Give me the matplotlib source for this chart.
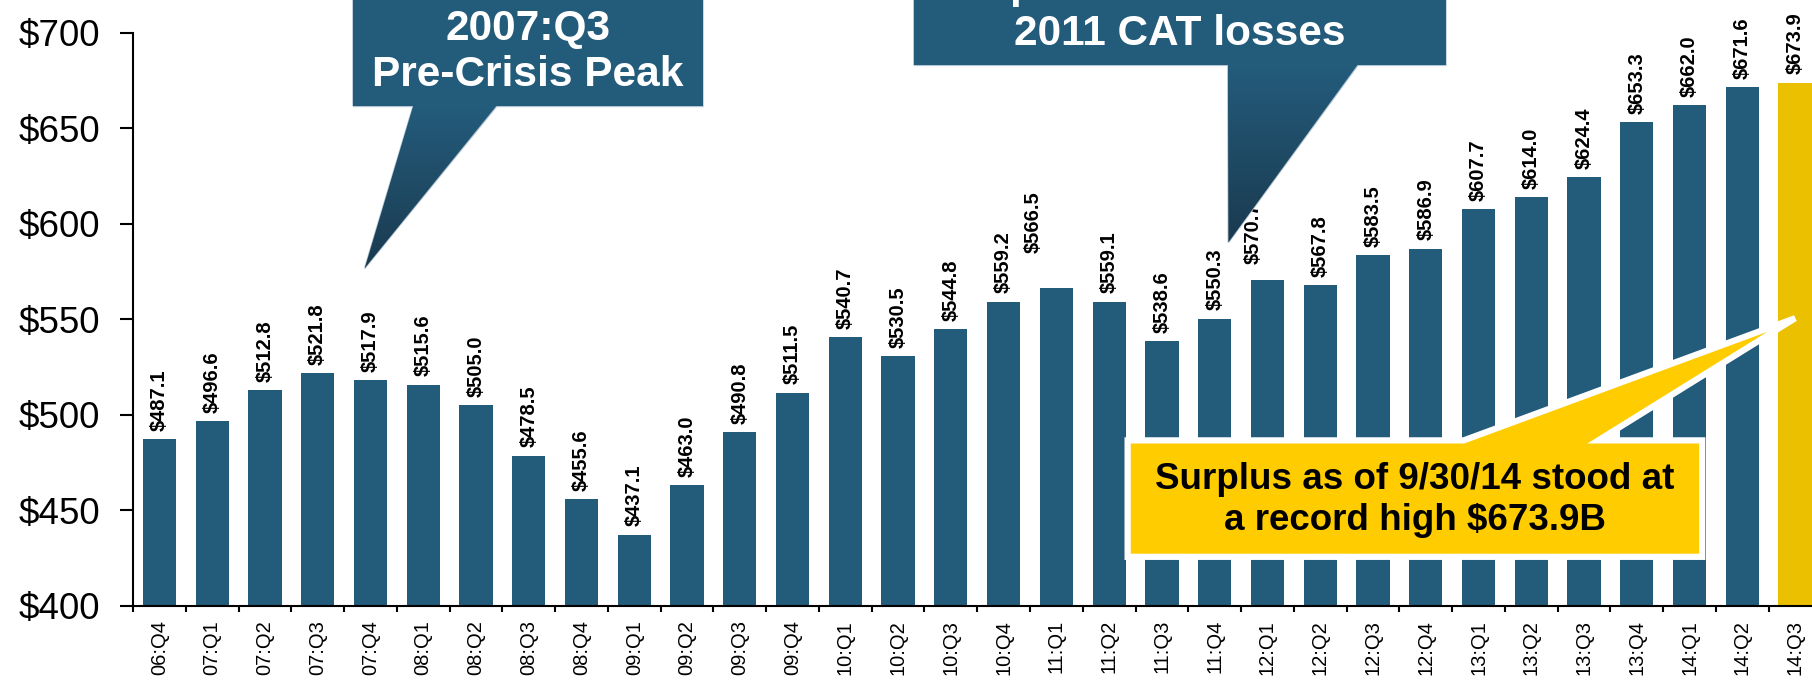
import numpy as np
import matplotlib
matplotlib.use('Agg')
import matplotlib.pyplot as plt
from matplotlib.patches import Polygon, Rectangle
from matplotlib.colors import LinearSegmentedColormap

plt.rcParams['font.family'] = ['Liberation Sans', 'DejaVu Sans']

# policyholder surplus by quarter, $ billions
quarters = ['06:Q4', '07:Q1', '07:Q2', '07:Q3', '07:Q4', '08:Q1', '08:Q2', '08:Q3',
            '08:Q4', '09:Q1', '09:Q2', '09:Q3', '09:Q4', '10:Q1', '10:Q2', '10:Q3',
            '10:Q4', '11:Q1', '11:Q2', '11:Q3', '11:Q4', '12:Q1', '12:Q2', '12:Q3',
            '12:Q4', '13:Q1', '13:Q2', '13:Q3', '13:Q4', '14:Q1', '14:Q2', '14:Q3']
surplus = [487.1, 496.6, 512.8, 521.8, 517.9, 515.6, 505.0, 478.5,
           455.6, 437.1, 463.0, 490.8, 511.5, 540.7, 530.5, 544.8,
           559.2, 566.5, 559.1, 538.6, 550.3, 570.7, 567.8, 583.5,
           586.9, 607.7, 614.0, 624.4, 653.3, 662.0, 671.6, 673.9]
yticks = [400, 450, 500, 550, 600, 650, 700]

blue = '#235b7b'
gold = '#ebc000'
callout_yellow = '#ffcc00'

fig = plt.figure(figsize=(18.12, 6.82), dpi=100)
ax = fig.add_axes([133 / 1812, 1 - 605.5 / 682, 1 - 133 / 1812, 605.5 / 682])

x = np.arange(len(quarters))
colors = [blue] * (len(quarters) - 1) + [gold]
ax.bar(x, surplus, width=0.63, color=colors, zorder=2)

# value labels above each bar (a couple were nudged up/left)
label_offsets = {17: (-17, 25), 21: (-10, 11)}
for i, v in enumerate(surplus):
    dx, dy = label_offsets.get(i, (0, 6))
    ax.annotate('$%.1f' % v, (i, v), xytext=(dx, dy), textcoords='offset points',
                rotation=90, ha='center', va='bottom', fontsize=14.5,
                fontweight='bold', zorder=3)

# axes styling
for s in ['top', 'right']:
    ax.spines[s].set_visible(False)
ax.spines['left'].set_linewidth(1.5)
ax.spines['bottom'].set_linewidth(1.5)
ax.spines['left'].set_bounds(400, 700)

ax.set_yticks(yticks)
ax.set_yticklabels(['$%d' % t for t in yticks])
ax.tick_params(axis='y', labelsize=26.5, length=9.5, width=1.5, pad=14)

ax.set_xticks(x)
ax.set_xticklabels(quarters, rotation=90, va='top')
ax.tick_params(axis='x', which='major', length=0, labelsize=14.5, pad=10.5)
ax.set_xticks(np.arange(len(quarters) + 1) - 0.5, minor=True)
ax.tick_params(axis='x', which='minor', length=4.3, width=1.5, direction='out')

grad_cmap = LinearSegmentedColormap.from_list('pointer', ['#245c7c', '#1a3a4f'])


def dark_callout(x0, x1, ybot, base_l, base_r, tip):
    outline = Polygon([(x0, ybot), (base_l, ybot), tip, (base_r, ybot), (x1, ybot),
                       (x1, ybot + 100), (x0, ybot + 100)], closed=True,
                      facecolor='none', edgecolor='#b4c6d3', lw=1.2, zorder=5)
    ax.add_patch(outline)
    ax.add_patch(Rectangle((x0, ybot), x1 - x0, 100, facecolor=blue,
                           edgecolor='none', zorder=5))
    wedge = Polygon([(base_l, ybot + 0.3), (base_r, ybot + 0.3), tip], closed=True,
                    facecolor='none', edgecolor='none', zorder=5)
    ax.add_patch(wedge)
    grad = np.linspace(0, 1, 256).reshape(-1, 1)
    ax.imshow(grad, cmap=grad_cmap, aspect='auto', origin='upper', zorder=5,
              extent=(min(base_l, tip[0]), max(base_r, tip[0]), tip[1], ybot + 0.5),
              clip_path=wedge, interpolation='bilinear')


# pre-crisis peak callout
dark_callout(3.67, 10.30, 661.5, 4.81, 6.39, (3.89, 576.6))
ax.text(6.98, 696.2, '2007:Q3', color='white', fontsize=30.5, fontweight='bold',
        ha='center', va='baseline', zorder=6)
ax.text(6.98, 672.0, 'Pre-Crisis Peak', color='white', fontsize=30.5,
        fontweight='bold', ha='center', va='baseline', zorder=6)

# 2011 catastrophe losses callout
dark_callout(14.30, 24.38, 683.0, 20.25, 22.71, (20.26, 590.2))
ax.text(19.34, 718.3, 'Drop due to near-record', color='white', fontsize=30.5,
        fontweight='bold', ha='center', va='baseline', zorder=6, clip_on=False)
ax.text(19.34, 693.5, '2011 CAT losses', color='white', fontsize=30.5,
        fontweight='bold', ha='center', va='baseline', zorder=6)

# record high callout
record = Polygon([(18.35, 425.5), (29.24, 425.5), (29.24, 486.5), (27.27, 486.5),
                  (31.0, 550.5), (24.72, 486.5), (18.35, 486.5)], closed=True,
                 facecolor=callout_yellow, edgecolor='white', lw=4.5,
                 joinstyle='miter', zorder=6)
ax.add_patch(record)
ax.text(23.79, 461.0, 'Surplus as of 9/30/14 stood at', fontsize=26.5,
        fontweight='bold', ha='center', va='baseline', zorder=7)
ax.text(23.79, 439.7, 'a record high $673.9B', fontsize=26.5,
        fontweight='bold', ha='center', va='baseline', zorder=7)

ax.set_xlim(-0.5, 31.32)
ax.set_ylim(400, 717.2)

fig.savefig('out.png', dpi=100)
